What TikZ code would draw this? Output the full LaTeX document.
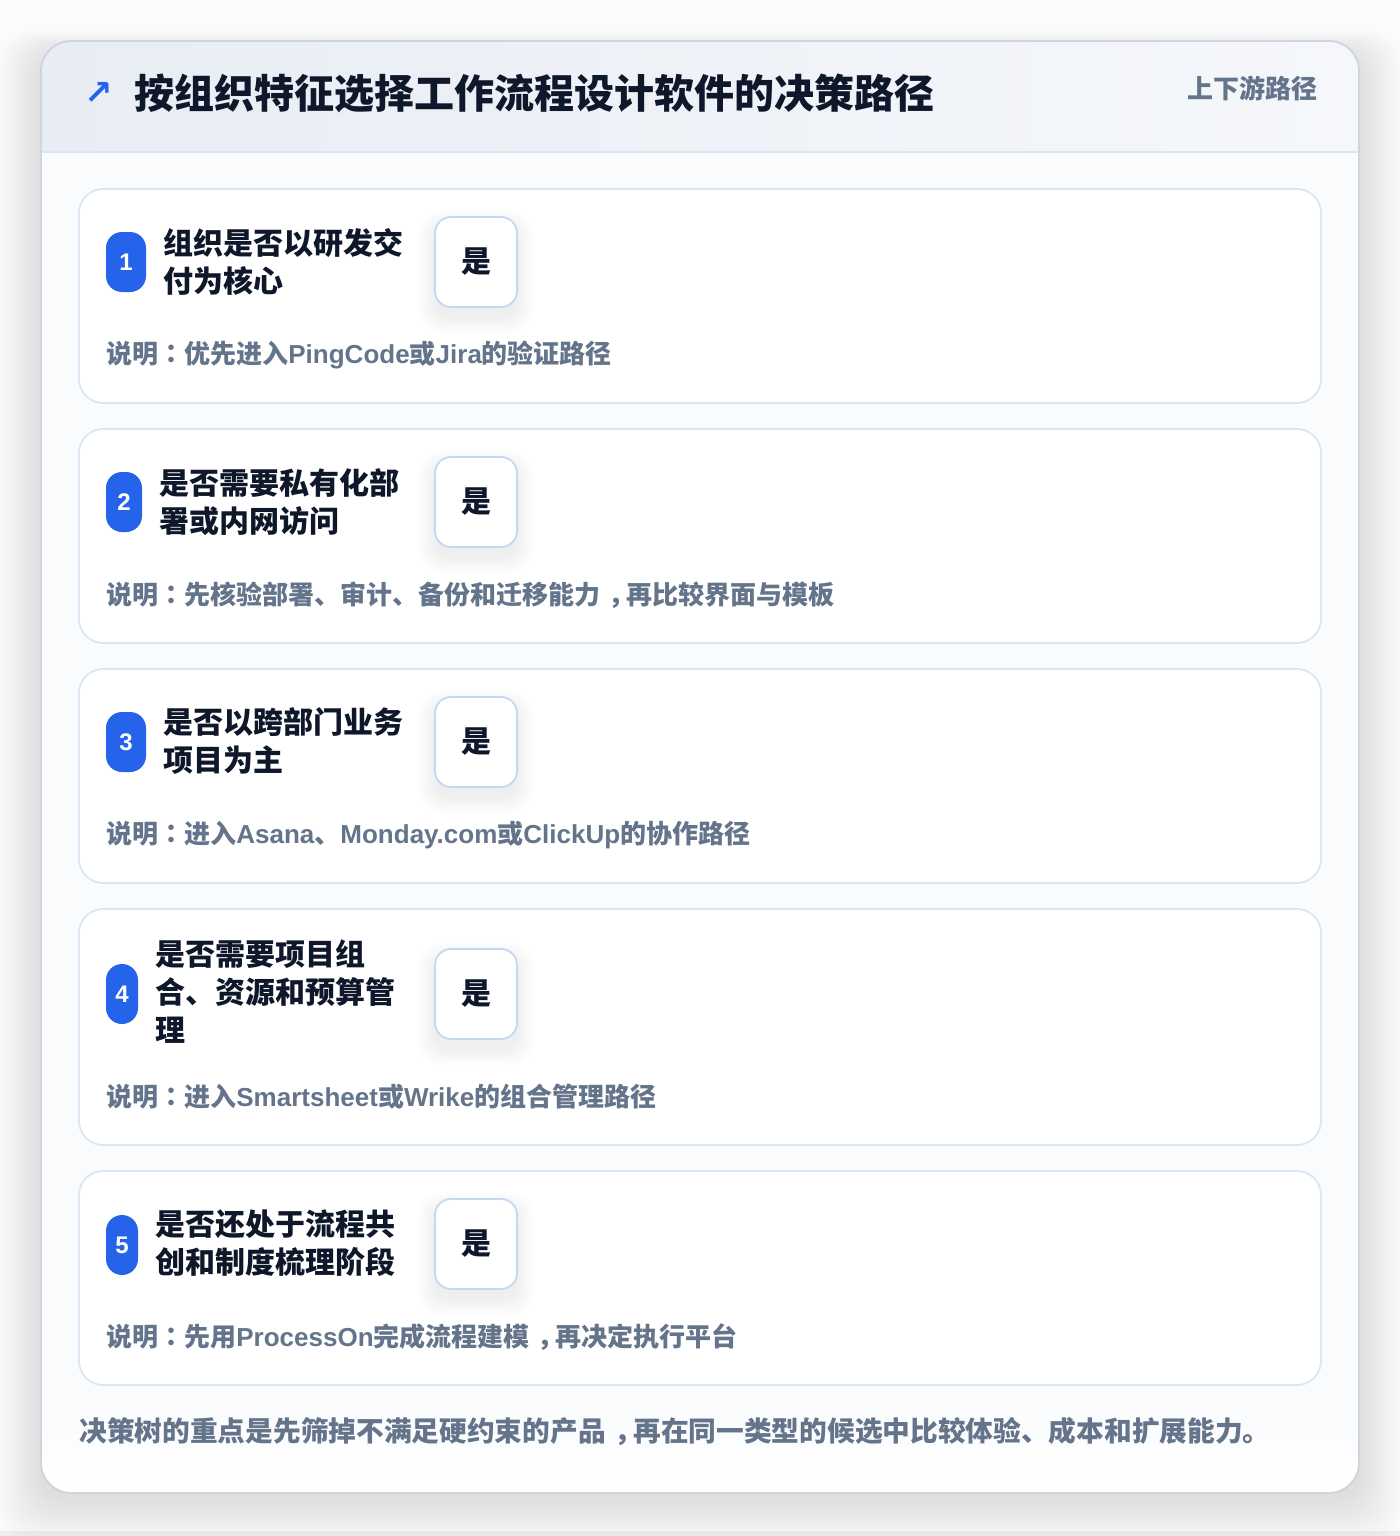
\documentclass[tikz,border=0pt]{standalone}
\usepackage{fontspec}
\setmainfont{Noto Sans CJK SC}
\newfontfamily\en{Liberation Sans}
\newfontfamily\kr{Noto Sans CJK KR}
\newfontfamily\sym{DejaVu Sans}
\usetikzlibrary{positioning}

\definecolor{ink}{HTML}{0F172A}
\definecolor{slate}{HTML}{64748B}
\definecolor{accent}{HTML}{2563EB}
\definecolor{cardline}{HTML}{DAE6F4}
\definecolor{yesline}{HTML}{C3D9F3}
\definecolor{headl}{HTML}{E8EDF4}
\definecolor{headr}{HTML}{F5F7FB}
\definecolor{bodyfill}{HTML}{FAFBFD}
\definecolor{frame}{HTML}{CDD5DF}
\definecolor{pagebg}{HTML}{FBFBFC}

\tikzset{
  card/.style={draw=cardline, line width=0.9pt, fill=white, rounded corners=12pt},
  badge/.style={fill=accent, rounded corners=8pt, text=white, inner sep=0pt,
    minimum height=30pt, font=\en\bfseries\fontsize{12}{12}\selectfont},
  question/.style={anchor=west, align=left, inner sep=0pt, text=ink,
    font=\bfseries\fontsize{15}{19}\selectfont},
  yesbox/.style={draw=yesline, line width=0.9pt, fill=white, rounded corners=8pt,
    minimum width=41pt, minimum height=45pt, inner sep=0pt, text=ink,
    font=\bfseries\fontsize{15}{15}\selectfont},
  note/.style={anchor=west, inner sep=0pt, text=slate,
    font=\bfseries\fontsize{13}{13}\selectfont},
}
\newcommand{\fwcolon}{{\kr ：}}
\newcommand{\fwcomma}{\hbox to 1em{\kern0.3em\rlap{，}\hss}}
% soft shadow under a yes box centred at (#1,#2)
\newcommand{\yesshadow}[2]{%
	\foreach \s in {2,4,...,16}
		\fill[black, opacity=0.006, rounded corners=10pt] (#1-41-\s,#2-45-\s+10) rectangle (#1+41+\s,#2+45+\s+10);}

\begin{document}
\begin{tikzpicture}[x=0.5pt, y=-0.5pt]
	\useasboundingbox (0,0) rectangle (1400,1536);
	\fill[pagebg] (0,0) rectangle (1400,1536);
	\fill[black, opacity=0.05] (0,1531) rectangle (1400,1536);
	
	% soft shadow round the frame
	\foreach \s in {3,6,...,42}
		\fill[black, opacity=0.008, rounded corners=16pt] (41-\s,52-\s*0.5) rectangle (1359+\s,1500+\s);
	
	% frame and header
	\fill[bodyfill, rounded corners=15pt] (41,41) rectangle (1359,1493);
	\begin{scope}
		\clip[rounded corners=15pt] (41,41) rectangle (1359,1493);
		\fill[left color=headl, right color=headr] (41,41) rectangle (1359,152);
		\fill[top color=bodyfill, bottom color=white] (41,1400) rectangle (1359,1493);
		\draw[cardline, line width=0.9pt] (41,152) -- (1359,152);
	\end{scope}
	\draw[frame, line width=0.9pt, rounded corners=15pt] (41,41) rectangle (1359,1493);
	
	\node[text=accent, font=\sym\bfseries\fontsize{17}{17}\selectfont, inner sep=0pt] (arrow) at (99,93) {↗};
	\node[anchor=west, inner sep=0pt, text=ink, font=\bfseries\fontsize{20}{20}\selectfont] (title) at (134,93) {按组织特征选择工作流程设计软件的决策路径};
	\node[anchor=east, inner sep=0pt, text=slate, font=\bfseries\fontsize{13}{13}\selectfont] (tag) at (1318,88) {上下游路径};
	
	% step 1
	\draw[card] (79,189) rectangle (1321,403);
	\node[badge, minimum width=20pt] (b1) at (126,262) {1};
	\node[question] (q1) at (163,262) {组织是否以研发交\\付为核心};
	\yesshadow{476}{262}
	\node[yesbox] (y1) at (476,262) {是};
	\node[note] (n1) at (106,355) {说明\fwcolon 优先进入{\en PingCode}或{\en Jira}的验证路径};
	
	% step 2
	\draw[card] (79,429) rectangle (1321,643);
	\node[badge, minimum width=18pt] (b2) at (124,502) {2};
	\node[question] (q2) at (159,502) {是否需要私有化部\\署或内网访问};
	\yesshadow{476}{502}
	\node[yesbox] (y2) at (476,502) {是};
	\node[note] (n2) at (106,595) {说明\fwcolon 先核验部署、审计、备份和迁移能力\fwcomma 再比较界面与模板};
	
	% step 3
	\draw[card] (79,669) rectangle (1321,883);
	\node[badge, minimum width=20pt] (b3) at (126,742) {3};
	\node[question] (q3) at (163,741) {是否以跨部门业务\\项目为主};
	\yesshadow{476}{742}
	\node[yesbox] (y3) at (476,742) {是};
	\node[note] (n3) at (106,835) {说明\fwcolon 进入{\en Asana}、{\en Monday.com}或{\en ClickUp}的协作路径};
	
	% step 4
	\draw[card] (79,909) rectangle (1321,1145);
	\node[badge, minimum width=16pt] (b4) at (122,994) {4};
	\node[question] (q4) at (155,992) {是否需要项目组\\合、资源和预算管\\理};
	\yesshadow{476}{994}
	\node[yesbox] (y4) at (476,994) {是};
	\node[note] (n4) at (106,1097) {说明\fwcolon 进入{\en Smartsheet}或{\en Wrike}的组合管理路径};
	
	% step 5
	\draw[card] (79,1171) rectangle (1321,1385);
	\node[badge, minimum width=16pt] (b5) at (122,1245) {5};
	\node[question] (q5) at (155,1243) {是否还处于流程共\\创和制度梳理阶段};
	\yesshadow{476}{1244}
	\node[yesbox] (y5) at (476,1244) {是};
	\node[note] (n5) at (106,1337) {说明\fwcolon 先用{\en ProcessOn}完成流程建模\fwcomma 再决定执行平台};
	
	\node[anchor=west, inner sep=0pt, text=slate, font=\bfseries\fontsize{13.85}{14}\selectfont] (summary) at (79,1432) {决策树的重点是先筛掉不满足硬约束的产品\fwcomma 再在同一类型的候选中比较体验、成本和扩展能力。};
\end{tikzpicture}
\end{document}
